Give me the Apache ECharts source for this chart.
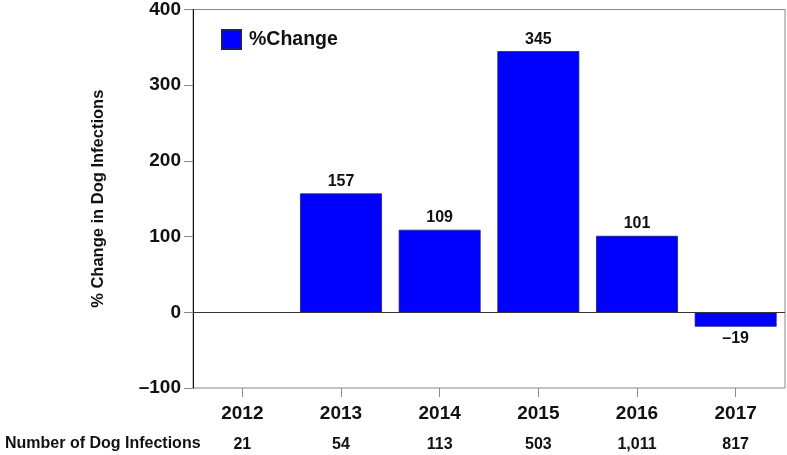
<!DOCTYPE html>
<html>
<head>
<meta charset="utf-8">
<script src="https://cdn.jsdelivr.net/npm/echarts@6/dist/echarts.min.js"></script>
<style>html,body{margin:0;padding:0;background:#fff}#c{width:787px;height:455px}</style>
</head>
<body>
<div id="c"></div>
<script>
const years = ['2012','2013','2014','2015','2016','2017'];
const pctChange = [null, 157, 109, 345, 101, -19];
const dogInfections = ['21','54','113','503','1,011','817'];
const yTicks = [-100, 0, 100, 200, 300, 400];

const font = 'Liberation Sans, Arial, sans-serif';
const fmt = v => v < 0 ? '\u2013' + Math.abs(v) : String(v);
const chart = echarts.init(document.getElementById('c'));
chart.setOption({
  animation: false,
  textStyle: { fontFamily: font },
  grid: { left: 193, right: 2, top: 8, bottom: 67, show: true, borderColor: '#888', borderWidth: 1 },
  legend: {
    show: true, left: 216, top: 24, itemWidth: 19, itemHeight: 19, itemGap: 6, icon: 'rect',
    textStyle: { fontFamily: font, fontWeight: 'bold', fontSize: 19.5, color: '#111', padding: [0,0,0,3] },
    data: ['%Change']
  },
  xAxis: [{
    type: 'category', data: years, position: 'bottom',
    axisLine: { show: false, onZero: false },
    axisTick: { show: true, alignWithLabel: true, length: 9, inside: false, lineStyle: { color: '#888' } },
    axisLabel: { fontFamily: font, fontWeight: 'bold', fontSize: 19, color: '#111', margin: 16 }
  }, {
    type: 'category', data: dogInfections, position: 'bottom', offset: 33,
    axisLine: { show: false, onZero: false }, axisTick: { show: false },
    axisLabel: { fontFamily: font, fontWeight: 'bold', fontSize: 16, color: '#111', margin: 16 }
  }],
  yAxis: {
    type: 'value', min: yTicks[0], max: yTicks[yTicks.length-1], interval: 100,
    name: '% Change in Dog Infections', nameLocation: 'middle', nameGap: 86, nameRotate: 90,
    nameTextStyle: { fontFamily: font, fontWeight: 'bold', fontSize: 16.5, color: '#111' },
    axisLine: { show: true, lineStyle: { color: '#111' } },
    axisTick: { show: true, length: 9, lineStyle: { color: '#888' } },
    splitLine: { show: false },
    axisLabel: { fontFamily: font, fontWeight: 'bold', fontSize: 19, color: '#111', margin: 12, formatter: fmt }
  },
  series: [{
    name: '%Change', type: 'bar', barWidth: '83%',
    data: pctChange.map(v => v !== null && v < 0 ? { value: v, label: { position: 'bottom' } } : v),
    itemStyle: { color: '#0000ff', borderColor: '#1a1a80', borderWidth: 0.8 },
    label: {
      show: true, position: 'top', distance: 4,
      fontFamily: font, fontWeight: 'bold', fontSize: 16, color: '#111',
      formatter: p => fmt(p.value)
    },
    markLine: {
      silent: true, symbol: 'none', label: { show: false },
      lineStyle: { color: '#333', type: 'solid', width: 1 },
      data: [{ yAxis: 0 }]
    }
  }],
  graphic: [{
    type: 'text', left: 5, top: 436,
    style: { text: 'Number of Dog Infections', fontFamily: font, fontWeight: 'bold', fontSize: 16, fill: '#111' }
  }]
});
</script>
</body>
</html>
